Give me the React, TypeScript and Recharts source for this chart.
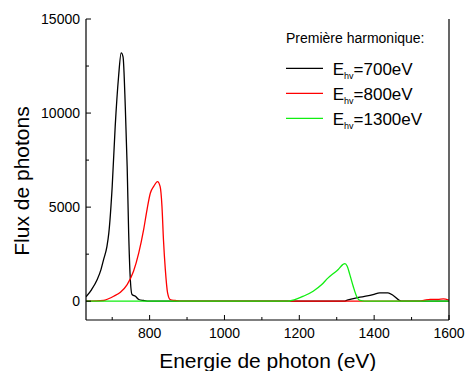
import { LineChart, Line, XAxis, YAxis, Legend } from 'recharts'

// photon energy (eV) / photon flux
const energy700 = [630, 645, 660, 670, 677, 686, 691, 700, 708, 717, 724, 729, 735, 740, 744, 748, 753, 762, 771, 784, 800, 1320, 1328, 1362, 1397, 1415, 1437, 1451, 1473, 1600]
const flux700 = [230, 620, 1150, 1680, 2210, 2910, 3630, 6100, 9280, 11930, 13200, 12990, 10340, 7160, 3640, 1325, 355, 265, 90, 37, 0, 0, 53, 212, 355, 445, 445, 300, 0, 0]

const energy800 = [630, 677, 690, 704, 722, 740, 757, 771, 784, 793, 802, 811, 821, 828, 833, 837, 842, 848, 855, 868, 880, 1520, 1535, 1550, 1570, 1585, 1600]
const flux800 = [0, 37, 130, 265, 477, 885, 1590, 2565, 3800, 4860, 5750, 6100, 6360, 6100, 5040, 3270, 1680, 445, 90, 37, 0, 0, 60, 100, 90, 120, 50]

const energy1300 = [630, 1170, 1180, 1211, 1237, 1260, 1277, 1291, 1304, 1316, 1322, 1328, 1335, 1344, 1353, 1362, 1375, 1600]
const flux1300 = [0, 0, 37, 265, 530, 885, 1240, 1470, 1680, 1945, 2000, 1855, 1415, 795, 265, 37, 0, 0]

const xTicks = [700, 800, 900, 1000, 1100, 1200, 1300, 1400, 1500, 1600]
const xLabels = [800, 1000, 1200, 1400, 1600]
const yTicks = [0, 2500, 5000, 7500, 10000, 12500, 15000]
const yLabels = [0, 5000, 10000, 15000]

const FONT = '"Liberation Sans", Arial, Helvetica, sans-serif'

const zip = (e: number[], f: number[]) => e.map((energy, i) => ({ energy, flux: f[i] }))

const series = [
  { key: '700', label: '700eV', color: '#000000', data: zip(energy700, flux700) },
  { key: '800', label: '800eV', color: '#ff0000', data: zip(energy800, flux800) },
  { key: '1300', label: '1300eV', color: '#11ee11', data: zip(energy1300, flux1300) },
]

function BottomTick({ x, y, payload }: any) {
  const major = xLabels.includes(payload.value)
  return (
    <g>
      <line x1={x} x2={x} y1={y} y2={y - (major ? 5 : 3)} stroke="#000" strokeWidth={1} />
      {major && (
        <text x={x} y={y + 17.5} textAnchor="middle" fontSize={14} fill="#000" fontFamily={FONT}>
          {payload.value}
        </text>
      )}
    </g>
  )
}

function LeftTick({ x, y, payload }: any) {
  const major = yLabels.includes(payload.value)
  return (
    <g>
      <line x1={x} x2={x + (major ? 5 : 3)} y1={y} y2={y} stroke="#000" strokeWidth={1} />
      {major && (
        <text x={x - 6} y={y + 5} textAnchor="end" fontSize={14} fill="#000" fontFamily={FONT}>
          {payload.value}
        </text>
      )}
    </g>
  )
}

function RightTick({ x, y, payload }: any) {
  const major = yLabels.includes(payload.value)
  return <line x1={x} x2={x - (major ? 5 : 3)} y1={y} y2={y} stroke="#000" strokeWidth={1} />
}

function LegendBox() {
  return (
    <svg width={180} height={115} style={{ overflow: 'visible' }}>
      <text x={6} y={23.3} fontSize={14} fontFamily={FONT} fill="#000">Première harmonique:</text>
      {series.map((s, i) => (
        <g key={s.key}>
          <line x1={6} x2={43} y1={48.3 + i * 25} y2={48.3 + i * 25} stroke={s.color} strokeWidth={1.3} />
          <text x={52.7} y={55 + i * 25} fontSize={17} fontFamily={FONT} fill="#000">
            E<tspan fontSize={9} dy={4}>hv</tspan><tspan fontSize={17} dy={-4}>={s.label}</tspan>
          </text>
        </g>
      ))}
    </svg>
  )
}

export default function App() {
  return (
    <div style={{ position: 'absolute', left: 0, top: 0, width: 465, height: 371, background: '#fff' }}>
      <LineChart width={465} height={371} margin={{ top: 19, right: 0, bottom: 0, left: 0 }} style={{ fontFamily: FONT }}>
        <XAxis
          dataKey="energy"
          type="number"
          domain={[630, 1600]}
          ticks={xTicks}
          interval={0}
          height={51}
          tickSize={0}
          tickMargin={0}
          tickLine={false}
          tick={<BottomTick />}
          axisLine={{ stroke: '#000', strokeWidth: 1.2 }}
          allowDataOverflow
          label={{
            content: () => (
              <text x={267.75} y={368} textAnchor="middle" fontSize={21} fontFamily={FONT} fill="#000">
                Energie de photon (eV)
              </text>
            ),
          }}
        />
        <XAxis
          xAxisId="top"
          orientation="top"
          type="number"
          domain={[630, 1600]}
          height={0}
          tick={false}
          tickLine={false}
          axisLine={{ stroke: '#000', strokeWidth: 1.2 }}
        />
        <YAxis
          type="number"
          domain={[-1000, 15000]}
          ticks={yTicks}
          interval={0}
          width={86}
          tickSize={0}
          tickMargin={0}
          tickLine={false}
          tick={<LeftTick />}
          axisLine={{ stroke: '#000', strokeWidth: 1.2 }}
          allowDataOverflow
          label={{
            content: () => (
              <text
                x={28.5}
                y={181}
                transform="rotate(-90 28.5 181)"
                textAnchor="middle"
                fontSize={21}
                fontFamily={FONT}
                fill="#000"
              >
                Flux de photons
              </text>
            ),
          }}
        />
        <YAxis
          yAxisId="right"
          orientation="right"
          type="number"
          domain={[-1000, 15000]}
          ticks={yTicks}
          interval={0}
          width={16}
          tickSize={0}
          tickMargin={0}
          tickLine={false}
          tick={<RightTick />}
          axisLine={{ stroke: '#000', strokeWidth: 1.2 }}
        />
        <Legend
          layout="vertical"
          align="center"
          verticalAlign="middle"
          wrapperStyle={{ left: 280, top: 20, width: 180, height: 115 }}
          content={() => <LegendBox />}
        />
        {series.map((s) => (
          <Line
            key={s.key}
            data={s.data}
            dataKey="flux"
            name={s.label}
            type="monotone"
            stroke={s.color}
            strokeWidth={1.3}
            dot={false}
            activeDot={false}
            isAnimationActive={false}
          />
        ))}
      </LineChart>
    </div>
  )
}
